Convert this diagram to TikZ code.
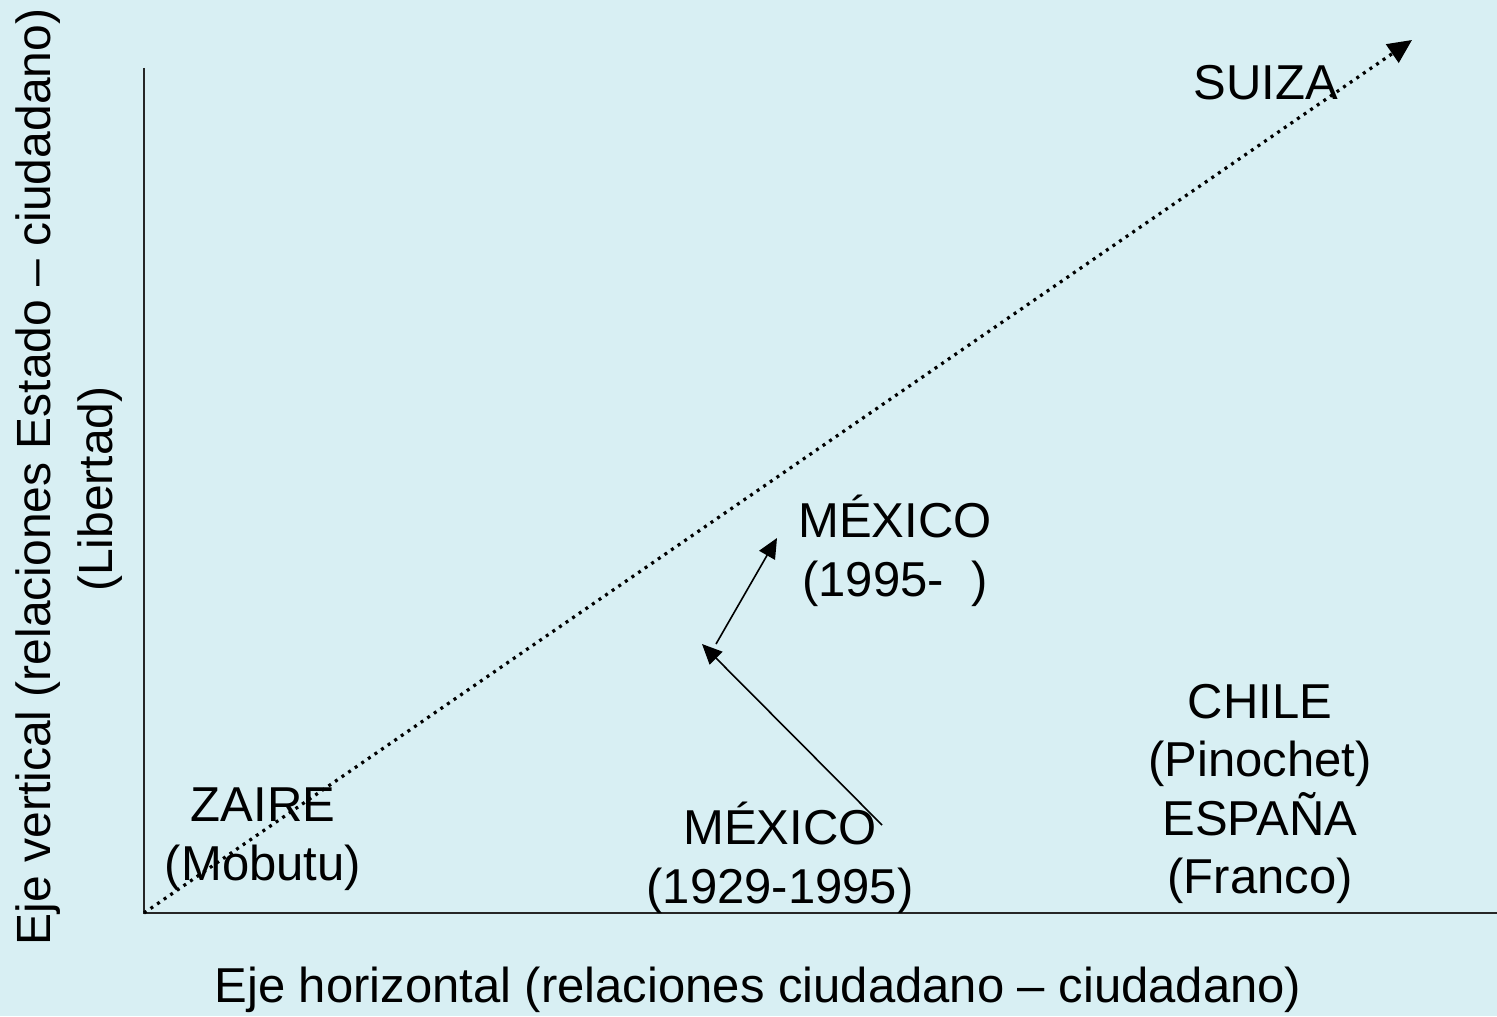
\documentclass[tikz,border=0pt]{standalone}
\usepackage{fontspec}
\setmainfont{Liberation Sans}
\usetikzlibrary{arrows.meta}
\definecolor{bgc}{RGB}{216,239,243}
\begin{document}
\begin{tikzpicture}[x=0.5pt,y=-0.5pt,
  lbl/.style={font=\fontsize{24.5pt}{29.3pt}\selectfont, align=center, inner sep=0pt},
  vlbl/.style={font=\fontsize{24pt}{29pt}\selectfont, align=center, inner sep=0pt, rotate=90},
  axis/.style={line width=1.1pt, black!85},
  trend/.style={line width=1.6pt, dash pattern=on 1.5pt off 2.5pt, -{Triangle[length=12pt,width=11pt]}},
  move/.style={line width=0.8pt, -{Triangle[length=10pt,width=9pt]}}]
\fill[bgc] (0,0) rectangle (1497,1016);
\useasboundingbox (0,0) rectangle (1497,1016);
\coordinate (top) at (144,68);
\coordinate (o) at (144,913);
\coordinate (right) at (1497,913);
\coordinate (sz) at (1412,40);
\draw[axis] (top) -- (o) -- (right);
\draw[trend] (o) -- (sz);
\node[lbl] (suiza) at (1266,83) {SUIZA};
\node[lbl] (zaire) at (263,839) {ZAIRE\\(Mobutu)};
\node[lbl] (mex1) at (780,858) {MÉXICO\\(1929-1995)};
\node[lbl] (mex2) at (895,551) {MÉXICO\\(1995-\ \ )};
\node[lbl] (chile) at (1260,794) {CHILE\\(Pinochet)\\ESPAÑA\\(Franco)};
\coordinate (m1s) at (882,825);
\coordinate (m1e) at (702,644);
\coordinate (m2s) at (716,644);
\coordinate (m2e) at (777,538);
\draw[move] (m1s) -- (m1e);
\draw[move] (m2s) -- (m2e);
\node[lbl] (xlab) at (758,990) {Eje horizontal (relaciones ciudadano – ciudadano)};
\node[vlbl] (ylab) at (38,477) {Eje vertical (relaciones Estado – ciudadano)};
\node[vlbl] (ylab2) at (100,489) {(Libertad)};
\end{tikzpicture}
\end{document}
